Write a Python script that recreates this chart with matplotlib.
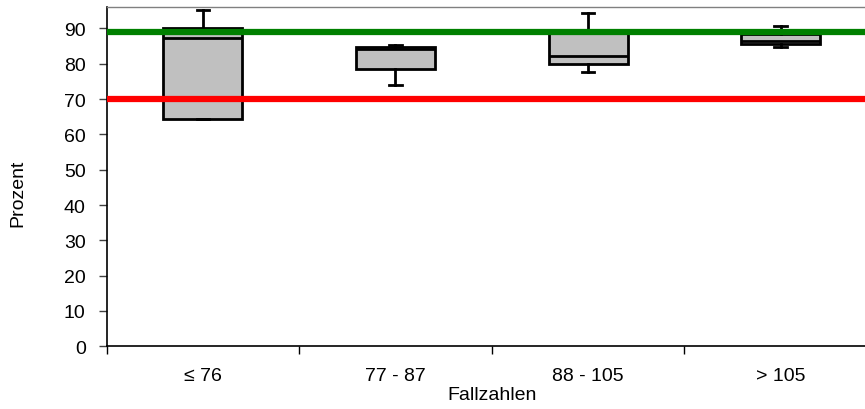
import matplotlib
matplotlib.use("Agg")
import matplotlib.pyplot as plt

# ── data ────────────────────────────────────────────────────────────────────
categories = ["≤ 76", "77 - 87", "88 - 105", "> 105"]
whis_lo = [64.4, 74.0, 77.6, 84.7]
q1 = [64.4, 78.5, 79.9, 85.5]
median = [87.2, 84.3, 82.2, 86.4]
q3 = [90.2, 84.7, 88.7, 88.5]
whis_hi = [95.1, 85.4, 94.3, 90.7]

target_line = 89   # green
limit_line = 70    # red

plt.rcParams["font.family"] = ["Liberation Sans", "DejaVu Sans"]
plt.rcParams["font.size"] = 14

fig = plt.figure(figsize=(8.65, 4.10), dpi=100)
# axis runs slightly past the right edge of the image, as in the reference
ax = fig.add_axes([106.5 / 865, 1 - 347.3 / 410, (877 - 106.5) / 865, (347.3 - 8.3) / 410])

stats = []
for i, cat in enumerate(categories):
    stats.append({"label": cat, "whislo": whis_lo[i], "q1": q1[i], "med": median[i],
                  "q3": q3[i], "whishi": whis_hi[i]})

positions = list(range(1, len(categories) + 1))
ax.bxp(stats, positions=positions, widths=0.41, capwidths=0.065,
       showfliers=False, patch_artist=True,
       boxprops=dict(facecolor="#c0c0c0", edgecolor="black", linewidth=2),
       medianprops=dict(color="black", linewidth=2),
       whiskerprops=dict(color="black", linewidth=2),
       capprops=dict(color="black", linewidth=2))

ax.axhline(target_line, color="#008000", lw=4.5, zorder=5)
ax.axhline(limit_line, color="#ff0000", lw=4.5, zorder=5)

ax.set_xlim(0.5, len(categories) + 0.5)
ax.set_ylim(0, 96)
ax.set_yticks(range(0, 91, 10))

# category labels centered, tick marks between categories
ax.set_xticks(positions)
ax.set_xticklabels(categories)
ax.tick_params(axis="x", which="major", length=0, pad=15)
ax.set_xticks([p - 0.5 for p in positions] + [len(categories) + 0.5], minor=True)
ax.tick_params(axis="x", which="minor", length=6, width=1, color="black")
ax.tick_params(axis="y", length=6, width=1, color="#404040", pad=9)

ax.spines["top"].set_color("#808080")
ax.spines["top"].set_linewidth(1)
ax.spines["right"].set_visible(False)
ax.spines["left"].set_linewidth(1.2)
ax.spines["bottom"].set_linewidth(1.2)

ax.set_xlabel("Fallzahlen", labelpad=1)
fig.text(18 / 865, 1 - 193 / 410, "Prozent", rotation=90, ha="center", va="center",
         fontsize=14)

fig.savefig("out.png", dpi=100)
